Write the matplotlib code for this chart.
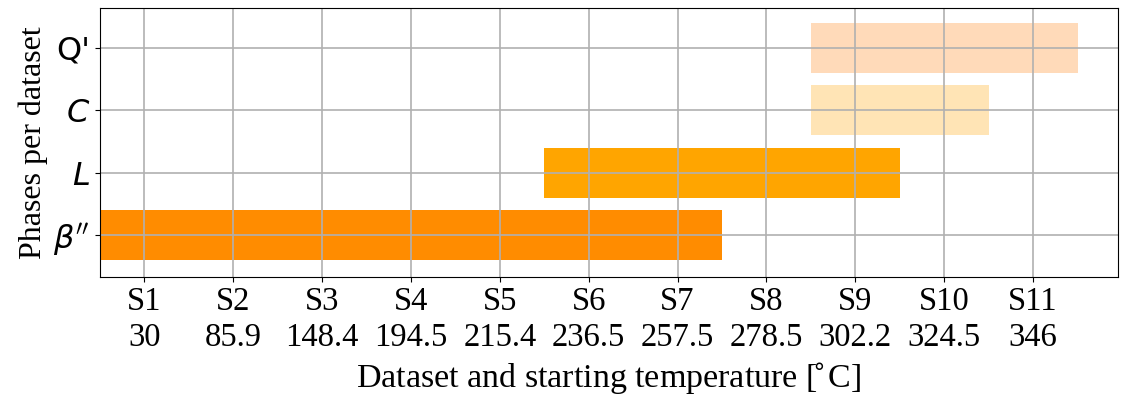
import matplotlib
matplotlib.use("Agg")
import matplotlib.pyplot as plt

plt.rcParams["font.family"] = ["Liberation Serif", "DejaVu Serif"]

# Datasets and their starting temperatures (°C)
datasets = ["S1", "S2", "S3", "S4", "S5", "S6", "S7", "S8", "S9", "S10", "S11"]
temps = ["30", "85.9", "148.4", "194.5", "215.4", "236.5", "257.5", "278.5", "302.2", "324.5", "346"]

# Phases, first and last dataset index in which each appears
phases = [r"$\beta''$", r"$L$", r"$C$", "Q'"]
first_idx = [0, 5, 8, 8]
last_idx = [6, 8, 9, 10]
colors = ["#ff8c00", "#ffa500", "#ffe4b5", "#ffdab9"]

fig, ax = plt.subplots(figsize=(11.22, 4), dpi=100)

for row, (a, b, c) in enumerate(zip(first_idx, last_idx, colors)):
    ax.broken_barh([(a - 0.5, b - a + 1)], (row - 0.4, 0.8), facecolors=c)

ax.set_xticks(range(len(datasets)))
ax.set_xticklabels([f"{d}\n{t}" for d, t in zip(datasets, temps)], fontsize=23.5)
ax.set_yticks(range(len(phases)))
ax.set_yticklabels(phases, fontsize=23, family="DejaVu Sans")
ax.set_xlim(-0.5, 10.95)
ax.set_ylim(-0.67, 3.64)

ax.set_xlabel(r"Dataset and starting temperature [$\!^{\circ}$C]", fontsize=24.5, labelpad=7)
ax.set_ylabel("Phases per dataset", fontsize=23, labelpad=4)
ax.grid(True, color="#b0b0b0", linewidth=1.2)

fig.subplots_adjust(left=0.089, right=0.996, top=0.98, bottom=0.307)
fig.savefig("out.png", dpi=100)
